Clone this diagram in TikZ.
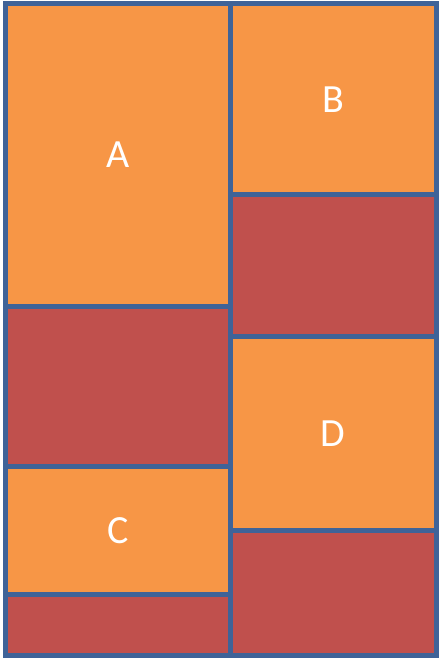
\documentclass[tikz,border=0pt]{standalone}
\usepackage{fontspec}
\setmainfont{Carlito}
\definecolor{orng}{HTML}{F79646}
\definecolor{rd}{HTML}{C0504D}
\definecolor{edge}{HTML}{3F6398}
\begin{document}
\begin{tikzpicture}[x=1pt,y=-1pt,
  cell/.style={draw=edge,line width=5pt},
  lbl/.style={text=white,font=\fontsize{40}{48}\selectfont,inner sep=0pt}]
\useasboundingbox (0,0) rectangle (439,660);
% left column
\filldraw[cell,fill=orng] (5.5,3.5) rectangle (230,306) coordinate (a2);
\node[lbl] (A) at (117.75,154.75) {A};
\filldraw[cell,fill=rd] (5.5,306) rectangle (230,466.5);
\filldraw[cell,fill=orng] (5.5,466.5) rectangle (230,594.5);
\node[lbl] (C) at (117.75,530.5) {C};
\filldraw[cell,fill=rd] (5.5,594.5) rectangle (230,655.5);
% right column
\filldraw[cell,fill=orng] (230,3.5) rectangle (436.5,195);
\node[lbl] (B) at (333.25,99.25) {B};
\filldraw[cell,fill=rd] (230,195) rectangle (436.5,336);
\filldraw[cell,fill=orng] (230,336) rectangle (436.5,530.5);
\node[lbl] (D) at (333.25,433.25) {D};
\filldraw[cell,fill=rd] (230,530.5) rectangle (436.5,655.5);
\end{tikzpicture}
\end{document}
